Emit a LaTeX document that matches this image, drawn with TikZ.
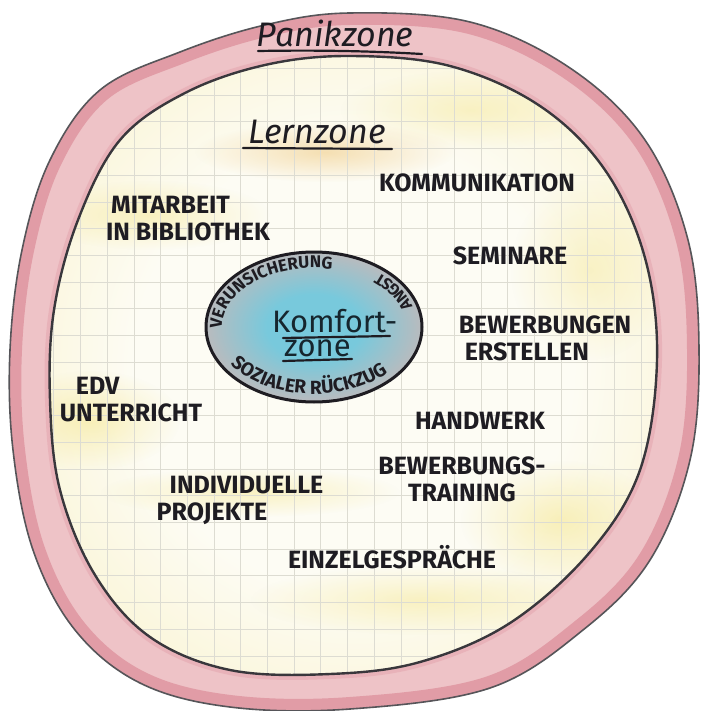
\documentclass[tikz,border=0pt]{standalone}
\usepackage{fontspec}
\setmainfont{Fira Sans}
\usetikzlibrary{decorations.text,fadings}
\tikzfading[name=softout, inner color=transparent!0, outer color=transparent!100]
\definecolor{ink}{HTML}{1E1C22}
\definecolor{kink}{HTML}{16262E}
\definecolor{pinkfill}{HTML}{EEC3C7}
\definecolor{pinkedge}{HTML}{D98390}
\definecolor{lernC}{HTML}{FDFCF4}
\definecolor{lernM}{HTML}{FAF4D2}
\definecolor{lernE}{HTML}{F4E795}
\definecolor{kblue}{HTML}{78C9DC}
\definecolor{kgray}{HTML}{B9BBBE}
\definecolor{kgray2}{HTML}{A2A2A7}
\definecolor{kdark}{HTML}{707078}
\definecolor{gridc}{HTML}{DDDCD2}
\definecolor{yelA}{HTML}{F3E27A}
\definecolor{orA}{HTML}{F0CC86}
\pgfdeclareradialshading{lernshade}{\pgfpoint{0bp}{0bp}}{color(0bp)=(lernC); color(18bp)=(lernC); color(32bp)=(lernM); color(44bp)=(lernE); color(71bp)=(lernE)}
\pgfdeclareradialshading{komfshade}{\pgfpoint{0bp}{0bp}}{color(0bp)=(kblue); color(11bp)=(kblue); color(25bp)=(kgray); color(40bp)=(kgray2); color(50bp)=(kdark); color(71bp)=(kdark)}
\newcommand\OuterPath{plot[smooth cycle, tension=0.6] coordinates {(350,13) (470,22) (570,68) (645,140) (688,240) (699,350) (690,460) (650,560) (583,630) (490,688) (350,709) (230,707) (140,683) (75,630) (33,550) (13,450) (10,350) (22,250) (50,160) (100,90) (180,52) (265,25)}}
\newcommand\InnerPath{plot[smooth cycle, tension=0.6] coordinates {(350,56) (450,66) (540,106) (605,170) (645,258) (657,360) (640,470) (590,552) (510,623) (420,662) (330,674) (230,670) (150,637) (95,575) (60,490) (50,400) (54,310) (78,220) (120,140) (185,93) (265,65)}}
\begin{document}
\begin{tikzpicture}[x=1pt,y=-1pt,
  caps/.style={font=\fontsize{25}{27}\selectfont\bfseries, text=ink, inner sep=0pt},
  title/.style={font=\fontsize{34}{36}\selectfont\itshape, text=ink, inner sep=0pt},
  komf/.style={font=\fontsize{31}{33}\selectfont, text=kink, inner sep=0pt, anchor=base west},
  uline/.style={draw=ink, line width=2.2pt, line cap=round},
  blob/.style={path fading=softout},
  curv/.style={decorate, decoration={text along path, text color=ink, text align=center, text={#1}}}]
\useasboundingbox (0,0) rectangle (701,711);
\fill[white] (0,0) rectangle (701,711);
% Panikzone band
\fill[pinkfill] \OuterPath;
\begin{scope}
  \clip \OuterPath;
  \draw[pinkedge, line width=24, opacity=0.6] \OuterPath;
  \draw[pinkedge, line width=10, opacity=0.25] \InnerPath;
\end{scope}
% Lernzone
\shade[shading=lernshade] \InnerPath;
\begin{scope}
  \clip \InnerPath;
  \fill[orA, opacity=0.6, blob] (325,152) ellipse[x radius=130, y radius=30];
  \fill[yelA, opacity=0.45, blob] (90,420) ellipse[x radius=90, y radius=50];
  \fill[yelA, opacity=0.4, blob] (150,215) ellipse[x radius=120, y radius=35];
  \fill[yelA, opacity=0.4, blob] (250,492) ellipse[x radius=150, y radius=25];
  \fill[yelA, opacity=0.45, blob] (560,520) ellipse[x radius=100, y radius=60];
  \fill[yelA, opacity=0.4, blob] (420,600) ellipse[x radius=170, y radius=35];
  \fill[yelA, opacity=0.35, blob] (590,270) ellipse[x radius=80, y radius=90];
  \fill[yelA, opacity=0.35, blob] (470,110) ellipse[x radius=130, y radius=40];
  \foreach \i in {0,...,26} {
    \draw[gridc, line width=0.6] ({27+26.7*\i},0) -- ++(0,711);
    \draw[gridc, line width=0.6] (0,{15+26.7*\i}) -- ++(701,0);
  }
\end{scope}
\draw[ink!88, line width=2.4] \InnerPath;
\draw[ink!75, line width=1.6] \OuterPath;
% Komfortzone
\shade[shading=komfshade] (314,327) ellipse[x radius=108, y radius=75];
\draw[ink, line width=3] (314,327) ellipse[x radius=108, y radius=75];
\path[curv={|\fontsize{17}{17}\selectfont\bfseries|VERUNSICHERUNG}] (314,327) ++(165:92 and 59) arc[start angle=165, end angle=290, x radius=92, y radius=59];
\path[curv={|\fontsize{16}{16}\selectfont\bfseries|ANGST}] (314,327) ++(352:103 and 70) arc[start angle=352, end angle=302, x radius=103, y radius=70];
\path[curv={|\fontsize{19}{19}\selectfont\bfseries|SOZIALER RÜCKZUG}] (314,327) ++(162:101 and 67) arc[start angle=162, end angle=28, x radius=101, y radius=67];
\node[komf] (kom1) at (272,332) {Komfort-};
\node[komf] (kom2) at (284,356) {zone};
\draw[uline] (283,338) -- (390,336);
\draw[uline] (283,361) -- (352,359);
% titles
\node[title] (panik) at (335,33) {Panikzone};
\draw[uline] (258,51) .. controls (320,50) and (370,51) .. (422,54);
\node[title] (lern) at (317,132) {Lernzone};
\draw[uline] (243,148) -- (392,149);
% items
\node[caps] (komm) at (477,183) {KOMMUNIKATION};
\node[caps, align=left] (mit) at (188,219) {\hspace*{5pt}MITARBEIT\\IN BIBLIOTHEK};
\node[caps] (sem) at (510,256) {SEMINARE};
\node[caps, align=left] (bew) at (545,338) {BEWERBUNGEN\\\hspace*{6pt}ERSTELLEN};
\node[caps, align=left] (edv) at (131,400) {\hspace*{16pt}EDV\\UNTERRICHT};
\node[caps] (hand) at (480,421) {HANDWERK};
\node[caps, align=center] (bt) at (462,479) {BEWERBUNGS-\\TRAINING};
\node[caps, align=left] (ind) at (240,500) {\hspace*{13pt}INDIVIDUELLE\\PROJEKTE};
\node[caps] (einz) at (392,557) {EINZELGESPRÄCHE};
\end{tikzpicture}
\end{document}
